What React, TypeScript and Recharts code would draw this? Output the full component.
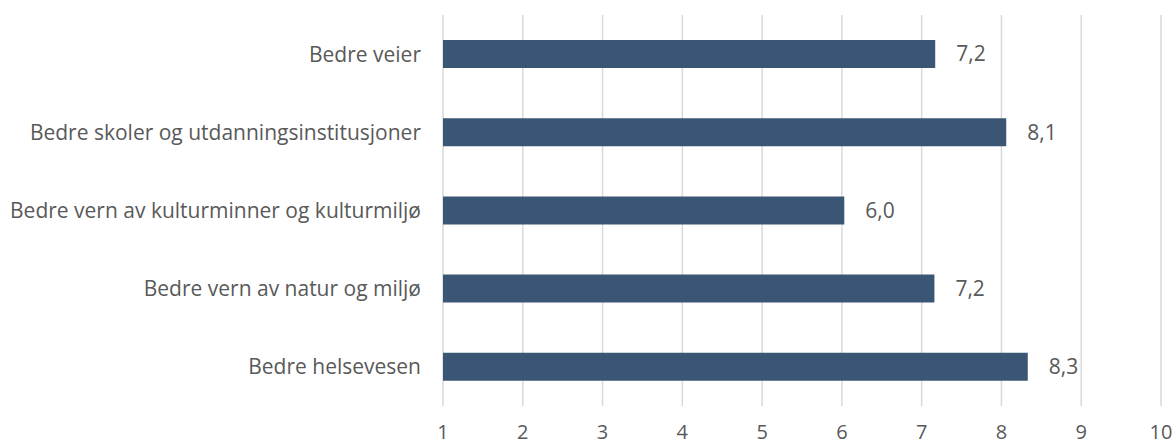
import { BarChart, Bar, XAxis, YAxis, CartesianGrid, LabelList } from "recharts"

const categories = [
  "Bedre veier",
  "Bedre skoler og utdanningsinstitusjoner",
  "Bedre vern av kulturminner og kulturmiljø",
  "Bedre vern av natur og miljø",
  "Bedre helsevesen",
]
const scores = [7.17, 8.06, 6.03, 7.16, 8.33]
const xTicks = [1, 2, 3, 4, 5, 6, 7, 8, 9, 10]

const data = categories.map((name, i) => ({ name, score: scores[i] }))

const FONT = "'Open Sans', sans-serif"
const TEXT = "#595959"

const fmt = (v: number) => v.toFixed(1).replace(".", ",")

export default function App() {
  return (
    <div style={{ position: "absolute", left: 0, top: 0, fontFamily: FONT }}>
      <BarChart
        width={1176}
        height={446}
        data={data}
        layout="vertical"
        barCategoryGap="32%"
        margin={{ top: 15, right: 15, bottom: 0, left: 0 }}
      >
        <CartesianGrid horizontal={false} stroke="#d9d9d9" strokeWidth={1.5} />
        <XAxis
          type="number"
          domain={[1, 10]}
          ticks={xTicks}
          height={40}
          axisLine={false}
          tickLine={false}
          tickSize={0}
          tickMargin={19}
          tick={{ fontSize: 20, fill: TEXT, fontFamily: FONT }}
        />
        <YAxis
          type="category"
          dataKey="name"
          width={443}
          axisLine={false}
          tickLine={false}
          tickSize={0}
          tickMargin={22}
          tick={{ fontSize: 21, fill: TEXT, fontFamily: FONT }}
        />
        <Bar dataKey="score" fill="#3a5674" isAnimationActive={false}>
          <LabelList
            dataKey="score"
            position="right"
            offset={21}
            formatter={(v: number) => fmt(v)}
            style={{ fontSize: 21, fill: TEXT, fontFamily: FONT }}
          />
        </Bar>
      </BarChart>
    </div>
  )
}
